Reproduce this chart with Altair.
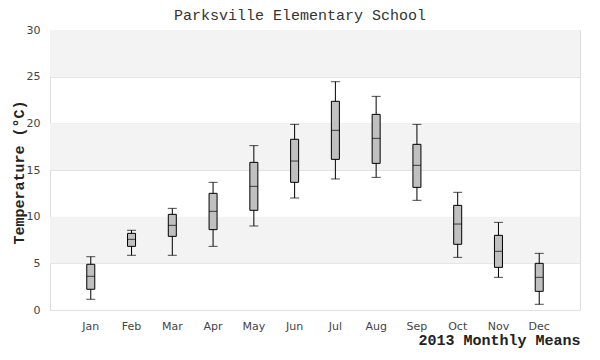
import altair as alt
import pandas as pd

months = ["Jan", "Feb", "Mar", "Apr", "May", "Jun", "Jul", "Aug", "Sep", "Oct", "Nov", "Dec"]
low = [1.15, 5.86, 5.86, 6.82, 9.0, 12.0, 14.04, 14.21, 11.75, 5.64, 3.5, 0.61]
q1 = [2.22, 6.82, 7.89, 8.61, 10.68, 13.68, 16.14, 15.71, 13.14, 7.04, 4.57, 2.0]
median = [3.61, 7.57, 9.07, 10.57, 13.25, 15.96, 19.25, 18.39, 15.5, 9.21, 6.29, 3.5]
q3 = [4.9, 8.21, 10.25, 12.5, 15.82, 18.29, 22.36, 20.96, 17.75, 11.21, 8.0, 5.0]
high = [5.71, 8.54, 10.89, 13.68, 17.61, 19.89, 24.46, 22.89, 19.89, 12.61, 9.39, 6.07]

band_low = [5, 15, 25]
band_high = [10, 20, 30]

df = pd.DataFrame({"month": months, "low": low, "q1": q1, "median": median, "q3": q3, "high": high})
bands = pd.DataFrame({"b0": band_low, "b1": band_high})

mono = "Liberation Mono"
sans = "DejaVu Sans"

yscale = alt.Scale(domain=[0, 30], nice=False)
xenc = alt.X("month:N", sort=months,
             scale=alt.Scale(paddingInner=0, paddingOuter=0.5),
             axis=alt.Axis(title="2013 Monthly Means", labelAngle=0, ticks=False, domain=False,
                           labelFont=sans, labelFontSize=11, labelColor="#444", labelPadding=10,
                           titleFont=mono, titleFontSize=15, titleFontWeight="bold", titleColor="#222",
                           titleAnchor="end", titleBaseline="alphabetic", titleY=34))
yaxis = alt.Axis(title="Temperature (°C)", values=[0, 5, 10, 15, 20, 25, 30], ticks=False, domain=False,
                 labelFont=sans, labelFontSize=11, labelColor="#444", labelPadding=10,
                 gridColor="#e2e2e2",
                 titleFont=mono, titleFontSize=15, titleFontWeight="bold", titleColor="#222",
                 titleX=-32, titleY=142, titleAngle=-90, titleAlign="center", titleBaseline="middle")

band_layer = alt.Chart(bands).mark_rect(color="#f3f3f3").encode(
    y=alt.Y("b0:Q", scale=yscale, axis=yaxis), y2="b1:Q")

base = alt.Chart(df)
whisk = base.mark_rule(color="black", strokeWidth=1).encode(
    x=xenc, y=alt.Y("low:Q", scale=yscale), y2="high:Q")
box = base.mark_bar(size=8, color="#c0c0c0", stroke="black", strokeWidth=1).encode(
    x=xenc, y=alt.Y("q1:Q", scale=yscale), y2="q3:Q")
med = base.mark_tick(color="black", size=8, thickness=1, orient="horizontal").encode(
    x=xenc, y=alt.Y("median:Q", scale=yscale))
cap_lo = base.mark_tick(color="black", size=9, thickness=1, orient="horizontal").encode(
    x=xenc, y=alt.Y("low:Q", scale=yscale))
cap_hi = base.mark_tick(color="black", size=9, thickness=1, orient="horizontal").encode(
    x=xenc, y=alt.Y("high:Q", scale=yscale))

chart = alt.layer(band_layer, whisk, box, med, cap_lo, cap_hi).properties(
    width=530, height=280,
    title=alt.TitleParams("Parksville Elementary School", font=mono, fontSize=15, fontWeight="normal",
                          color="#333", anchor="middle", dx=-15, offset=1),
    autosize=alt.AutoSizeParams(type="none"),
    padding={"left": 42, "top": 22, "right": 10, "bottom": 40},
).configure_view(stroke="#d9d9d9", strokeWidth=1).configure(background="white")

chart.save("out.html", embed_options={"renderer": "svg", "actions": False})
